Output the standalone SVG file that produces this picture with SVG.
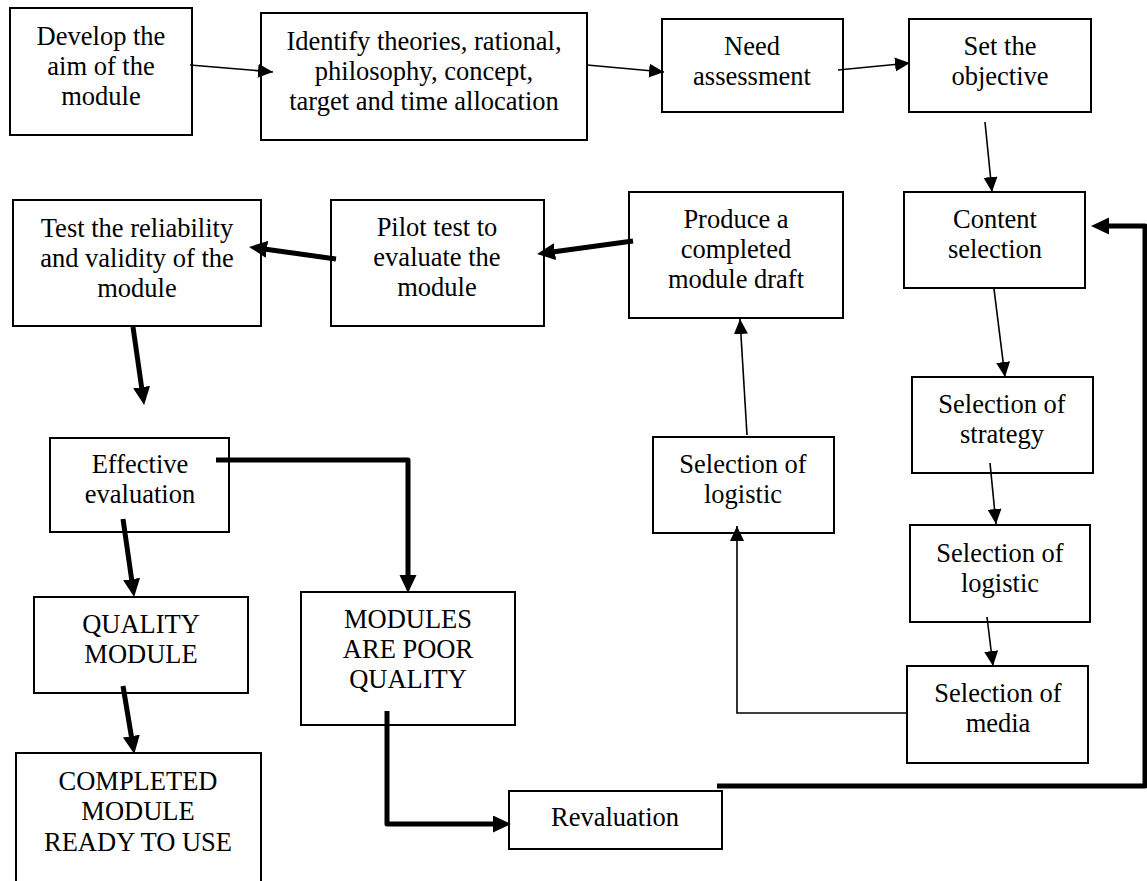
<svg xmlns="http://www.w3.org/2000/svg" width="1147" height="881" viewBox="0 0 1147 881">
<style>
rect.n{fill:#fff;stroke:#000;stroke-width:2}
text{font-family:"Liberation Serif","DejaVu Serif",serif;font-size:26.5px;fill:#000;text-anchor:middle}
.thin{fill:none;stroke:#000;stroke-width:1.6;marker-end:url(#ah)}
.thick{fill:none;stroke:#000;stroke-width:5;stroke-linejoin:round;marker-end:url(#ahb)}
</style>
<defs>
<marker id="ah" markerUnits="userSpaceOnUse" markerWidth="16" markerHeight="15" refX="15" refY="7" orient="auto"><path d="M0,0 L15,7 L0,14 z" fill="#000"/></marker>
<marker id="ahb" markerUnits="userSpaceOnUse" markerWidth="19" markerHeight="18" refX="10" refY="8.5" orient="auto"><path d="M0,0 L18,8.5 L0,17 z" fill="#000"/></marker>
</defs>
<rect width="1147" height="881" fill="#fff"/>
<g id="n1"><rect class="n" x="10" y="8" width="182" height="127"/><text x="101" y="45">Develop the</text><text x="101" y="75">aim of the</text><text x="101" y="105">module</text></g>
<g id="n2"><rect class="n" x="261" y="13" width="326" height="127"/><text x="424" y="50">Identify theories, rational,</text><text x="424" y="80">philosophy, concept,</text><text x="424" y="110">target and time allocation</text></g>
<g id="n3"><rect class="n" x="662" y="19" width="181" height="93"/><text x="752" y="55">Need</text><text x="752" y="85">assessment</text></g>
<g id="n4"><rect class="n" x="909" y="19" width="182" height="93"/><text x="1000" y="55">Set the</text><text x="1000" y="85">objective</text></g>
<g id="n5"><rect class="n" x="904" y="192" width="181" height="96"/><text x="995" y="228">Content</text><text x="995" y="258">selection</text></g>
<g id="n6"><rect class="n" x="629" y="192" width="214" height="126"/><text x="736" y="228">Produce a</text><text x="736" y="258">completed</text><text x="736" y="288">module draft</text></g>
<g id="n7"><rect class="n" x="331" y="200" width="213" height="126"/><text x="437" y="236">Pilot test to</text><text x="437" y="266">evaluate the</text><text x="437" y="296">module</text></g>
<g id="n8"><rect class="n" x="13" y="200" width="248" height="126"/><text x="137" y="237">Test the reliability</text><text x="137" y="267">and validity of the</text><text x="137" y="297">module</text></g>
<g id="n9"><rect class="n" x="912" y="377" width="181" height="96"/><text x="1002" y="413">Selection of</text><text x="1002" y="443">strategy</text></g>
<g id="n10"><rect class="n" x="653" y="437" width="181" height="96"/><text x="743" y="473">Selection of</text><text x="743" y="503">logistic</text></g>
<g id="n11"><rect class="n" x="910" y="525" width="180" height="97"/><text x="1000" y="562">Selection of</text><text x="1000" y="592">logistic</text></g>
<g id="n12"><rect class="n" x="907" y="666" width="181" height="97"/><text x="998" y="702">Selection of</text><text x="998" y="732">media</text></g>
<g id="n13"><rect class="n" x="509" y="791" width="213" height="58"/><text x="615" y="826">Revaluation</text></g>
<g id="n14"><rect class="n" x="50" y="438" width="179" height="94"/><text x="140" y="473">Effective</text><text x="140" y="503">evaluation</text></g>
<g id="n15"><rect class="n" x="34" y="597" width="214" height="96"/><text x="141" y="633">QUALITY</text><text x="141" y="663">MODULE</text></g>
<g id="n16"><rect class="n" x="301" y="592" width="214" height="133"/><text x="408" y="628">MODULES</text><text x="408" y="658">ARE POOR</text><text x="408" y="688">QUALITY</text></g>
<g id="n17"><rect class="n" x="16" y="753" width="245" height="140"/><text x="138" y="790">COMPLETED</text><text x="138" y="820">MODULE</text><text x="138" y="851">READY TO USE</text></g>
<g id="connectors">
<line class="thin" x1="190" y1="65" x2="273" y2="72"/>
<line class="thin" x1="587" y1="65" x2="664" y2="72"/>
<line class="thin" x1="838" y1="70" x2="910" y2="63"/>
<line class="thin" x1="985" y1="122" x2="992" y2="192"/>
<line class="thin" x1="994" y1="289" x2="1005" y2="377"/>
<line class="thin" x1="990" y1="463" x2="996" y2="524"/>
<line class="thin" x1="987" y1="617" x2="993" y2="666"/>
<polyline class="thin" points="907,713 737,713 737,526"/>
<line class="thin" x1="747" y1="435" x2="740" y2="319"/>
<line class="thick" x1="633" y1="241" x2="545" y2="253"/>
<line class="thick" x1="336" y1="259" x2="257" y2="248"/>
<line class="thick" x1="133" y1="327" x2="143" y2="397"/>
<polyline class="thick" points="216,460 408,460 408,585"/>
<line class="thick" x1="123" y1="519" x2="133" y2="589"/>
<line class="thick" x1="123" y1="686" x2="133" y2="746"/>
<polyline class="thick" points="387,711 387,824 503,824"/>
<polyline class="thick" points="717,786 1145,786 1145,226 1099,226"/>
</g>
</svg>
